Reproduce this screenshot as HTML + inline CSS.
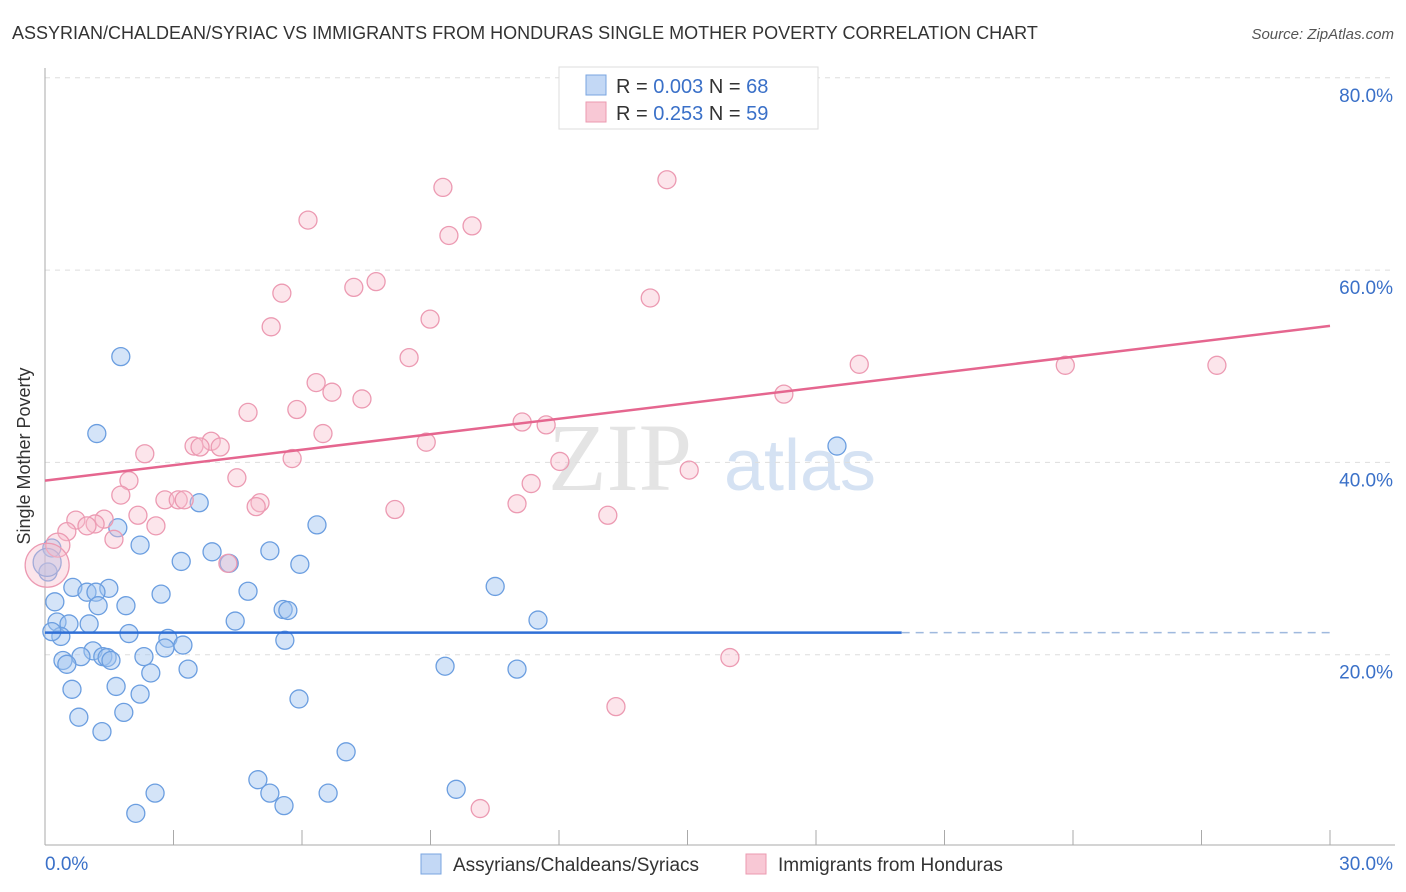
<!DOCTYPE html>
<html><head><meta charset="utf-8"><style>
body{margin:0;background:#fff;font-family:"Liberation Sans",sans-serif;}
svg{display:block}
</style></head><body>
<svg id="chart" width="1406" height="892">
<text x="12" y="39" font-size="18" fill="#333">ASSYRIAN/CHALDEAN/SYRIAC VS IMMIGRANTS FROM HONDURAS SINGLE MOTHER POVERTY CORRELATION CHART</text>
<text x="1394" y="39" font-size="15" fill="#555" font-style="italic" text-anchor="end">Source: ZipAtlas.com</text>
<text x="30" y="456" font-size="18" fill="#333" text-anchor="middle" transform="rotate(-90 30 456)">Single Mother Poverty</text>
<text x="620" y="490" font-size="96" fill="#e4e4e4" font-family="Liberation Serif,serif" text-anchor="middle">ZIP</text>
<text x="800" y="490" font-size="72" fill="#d5e2f3" text-anchor="middle">atlas</text>
<g id="grid"></g><g id="axes"></g><g id="pts"></g><g id="lines"></g>
<g>
<rect x="559" y="67" width="259" height="62" fill="#fff" stroke="#ddd"/>
<rect x="586" y="75" width="20" height="20" fill="#c3d8f5" stroke="#7aa5e0"/>
<text x="616" y="93" font-size="20" fill="#333">R = <tspan fill="#3a70c8">0.003</tspan>   N = <tspan fill="#3a70c8">68</tspan></text>
<rect x="586" y="102" width="20" height="20" fill="#f8c8d5" stroke="#eb9ab0"/>
<text x="616" y="120" font-size="20" fill="#333">R =  <tspan fill="#3a70c8">0.253</tspan>   N = <tspan fill="#3a70c8">59</tspan></text>
</g>
<g>
<rect x="421" y="854" width="20" height="20" fill="#c3d8f5" stroke="#7aa5e0"/>
<text x="453" y="871" font-size="19" fill="#333">Assyrians/Chaldeans/Syriacs</text>
<rect x="746" y="854" width="20" height="20" fill="#f8c8d5" stroke="#eb9ab0"/>
<text x="778" y="871" font-size="19" fill="#333">Immigrants from Honduras</text>
</g>
</svg>
<script>
const blueX=[1.77,1.21,18.49,3.60,1.70,6.35,2.22,3.90,5.25,3.18,4.30,5.95,0.16,0.07,10.51,0.65,1.49,0.98,1.19,2.71,4.74,0.23,1.89,1.24,5.56,5.67,11.51,4.44,0.28,0.56,1.03,1.96,0.37,0.16,2.87,5.60,3.22,2.80,1.12,0.84,1.35,1.45,1.54,2.31,0.42,0.51,9.34,11.02,3.34,2.47,0.63,1.66,2.22,5.93,0.79,1.84,1.33,7.03,4.97,2.57,6.61,9.60,5.25,5.58,2.12,0.05];
const blueY=[51.0,43.0,41.7,35.8,33.2,33.5,31.4,30.7,30.8,29.7,29.5,29.4,31.1,28.6,27.1,27.0,26.9,26.5,26.5,26.3,26.6,25.5,25.1,25.1,24.7,24.6,23.6,23.5,23.4,23.2,23.2,22.2,21.9,22.4,21.7,21.5,21.0,20.7,20.4,19.8,19.8,19.7,19.4,19.8,19.4,19.0,18.8,18.5,18.5,18.1,16.4,16.7,15.9,15.4,13.5,14.0,12.0,9.9,7.0,5.6,5.6,6.0,5.6,4.3,3.5,29.6];
const blueR=[9,9,9,9,9,9,9,9,9,9,9,9,9,9,9,9,9,9,9,9,9,9,9,9,9,9,9,9,9,9,9,9,9,9,9,9,9,9,9,9,9,9,9,9,9,9,9,9,9,9,9,9,9,9,9,9,9,9,9,9,9,9,9,9,9,14];
const pinkX=[14.52,9.29,6.14,9.97,9.43,7.73,5.53,7.21,14.13,8.99,5.28,8.50,19.01,23.82,27.36,6.33,6.70,7.40,4.74,5.88,17.25,11.14,11.70,6.49,3.48,3.88,4.09,3.62,8.90,2.33,5.77,12.02,15.04,4.48,1.96,11.35,1.77,2.80,3.11,3.25,5.02,4.93,11.02,8.17,13.14,2.17,2.59,0.72,1.38,1.17,0.98,0.51,1.61,0.30,0.05,4.27,15.99,13.33,10.16];
const pinkY=[69.4,68.6,65.2,64.6,63.6,58.8,57.6,58.2,57.1,54.9,54.1,50.9,50.2,50.1,50.1,48.3,47.3,46.6,45.2,45.5,47.1,44.2,43.9,43.0,41.7,42.2,41.6,41.6,42.1,40.9,40.4,40.1,39.2,38.4,38.1,37.8,36.6,36.1,36.1,36.1,35.8,35.4,35.7,35.1,34.5,34.5,33.4,34.0,34.1,33.6,33.4,32.8,32.0,31.4,29.3,29.5,19.7,14.6,4.0];
const pinkR=pinkX.map((v,i)=>i===54?22:(i===53?12:9));
const yTicks=[20,40,60,80];
const xTickLabels=["0.0%","30.0%"];
const blueTrend=[22.3,22.3];const pinkTrend=[38.1,54.2];
const X=v=>45+v/30*1285, Y=v=>847-v*9.615;
const NS="http://www.w3.org/2000/svg";
function mk(p,t,a){const e=document.createElementNS(NS,t);for(const k in a)e.setAttribute(k,a[k]);document.getElementById(p).appendChild(e);return e;}
yTicks.forEach(t=>{
 const l=mk('grid','line',{x1:45,x2:1395,y1:Y(t),y2:Y(t),stroke:'#ddd','stroke-dasharray':'5,5'});
 
 
 const tx=mk('grid','text',{x:1393,y:Y(t)+24,'font-size':19,fill:'#3a70c8','text-anchor':'end'});
 tx.textContent=t.toFixed(1)+'%';
 
 
});
const ax=mk('axes','line',{x1:45,x2:45,y1:68,y2:845,stroke:'#aaa'});


const bx=mk('axes','line',{x1:45,x2:1395,y1:845,y2:845,stroke:'#aaa'});


for(let i=1;i<=10;i++){const t=mk('axes','line',{x1:X(i*3),x2:X(i*3),y1:830,y2:845,stroke:'#aaa'});
 
 }
[[0,45,'start'],[1,1393,'end']].forEach(([i,x,a])=>{const t=mk('axes','text',{x:x,y:870,'font-size':19,fill:'#3a70c8','text-anchor':a});t.textContent=xTickLabels[i];
 
 });
blueX.forEach((v,i)=>{const c=mk('pts','circle',{cx:X(v),cy:Y(blueY[i]),r:blueR[i],fill:'rgba(160,195,240,0.45)',stroke:'#6b9ee0','stroke-width':1.3});
 
 });
pinkX.forEach((v,i)=>{const c=mk('pts','circle',{cx:X(v),cy:Y(pinkY[i]),r:pinkR[i],fill:'rgba(248,190,205,0.4)',stroke:'#ec9ab2','stroke-width':1.3});
 
 });
const b1=mk('lines','line',{x1:X(0),x2:X(20),y1:Y(blueTrend[0]),y2:Y(blueTrend[0]+(blueTrend[1]-blueTrend[0])*2/3),stroke:'#2f6fd6','stroke-width':2.5});


const b2=mk('lines','line',{x1:X(20),x2:X(30),y1:Y(blueTrend[0]+(blueTrend[1]-blueTrend[0])*2/3),y2:Y(blueTrend[1]),stroke:'#9fb9de','stroke-width':1.5,'stroke-dasharray':'8,6'});


const p1=mk('lines','line',{x1:X(0),x2:X(30),y1:Y(pinkTrend[0]),y2:Y(pinkTrend[1]),stroke:'#e5668f','stroke-width':2.5});


</script>
</body></html>
